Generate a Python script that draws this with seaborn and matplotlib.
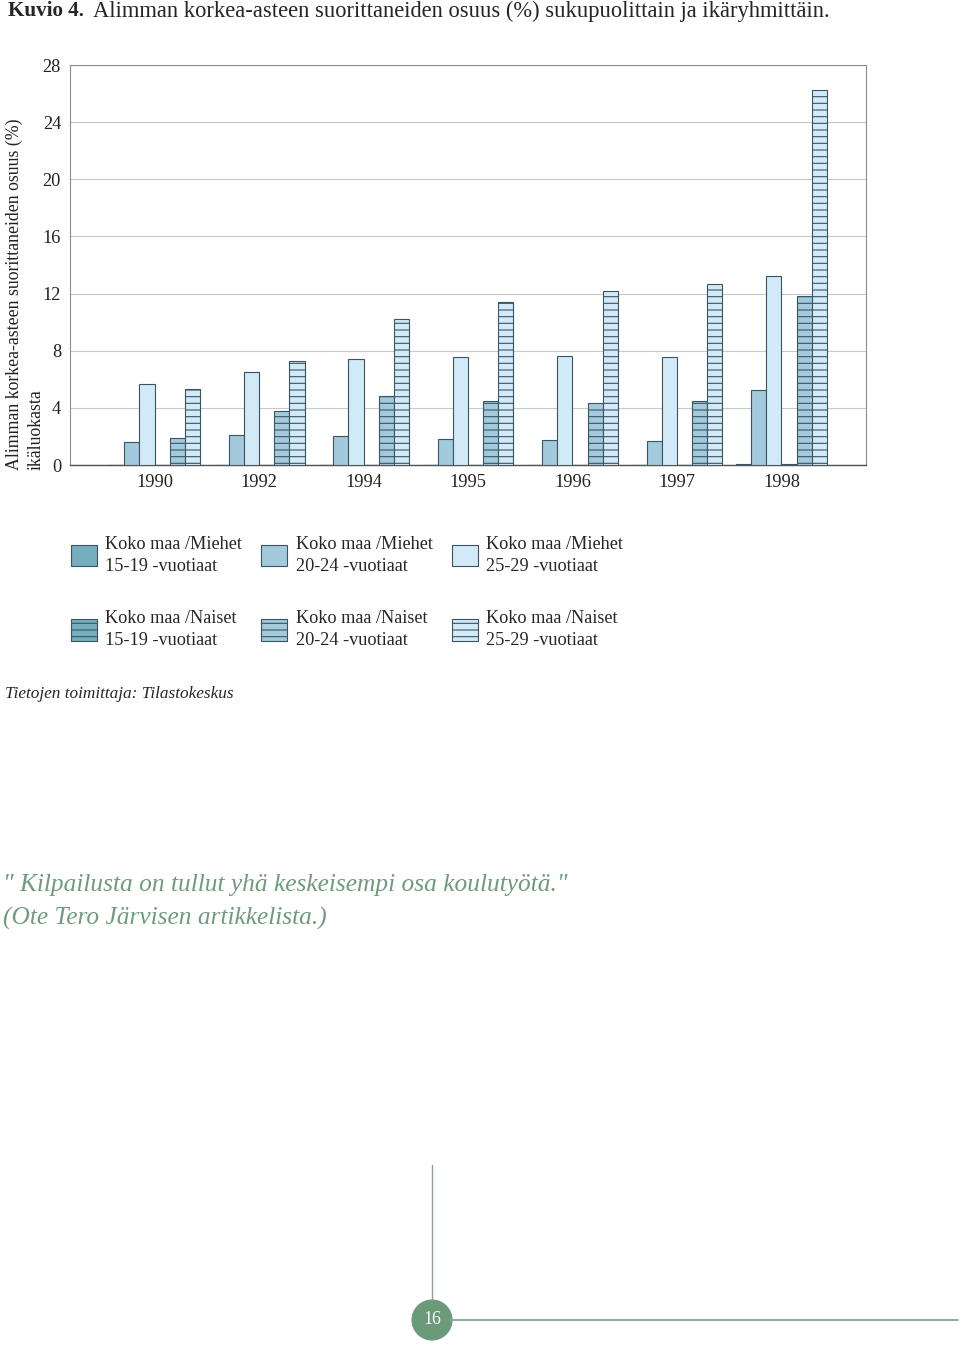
import pandas as pd
import matplotlib.pyplot as plt
import seaborn as sns
from matplotlib.patches import Patch, Ellipse
from matplotlib.lines import Line2D

# data
years = ['1990', '1992', '1994', '1995', '1996', '1997', '1998']
series = ['Miehet 15-19', 'Miehet 20-24', 'Miehet 25-29',
          'Naiset 15-19', 'Naiset 20-24', 'Naiset 25-29']
m15 = [0, 0, 0, 0, 0, 0, 0.05]
m20 = [1.6, 2.1, 2.05, 1.8, 1.75, 1.7, 5.25]
m25 = [5.7, 6.5, 7.4, 7.55, 7.6, 7.55, 13.2]
n15 = [0, 0, 0, 0, 0, 0, 0.05]
n20 = [1.9, 3.75, 4.8, 4.5, 4.35, 4.5, 11.85]
n25 = [5.3, 7.3, 10.25, 11.4, 12.2, 12.65, 26.25]
y_ticks = [0, 4, 8, 12, 16, 20, 24, 28]

legend_labels = ['Koko maa /Miehet\n15-19 -vuotiaat', 'Koko maa /Miehet\n20-24 -vuotiaat',
                 'Koko maa /Miehet\n25-29 -vuotiaat', 'Koko maa /Naiset\n15-19 -vuotiaat',
                 'Koko maa /Naiset\n20-24 -vuotiaat', 'Koko maa /Naiset\n25-29 -vuotiaat']

rows = []
for s, vals in zip(series, [m15, m20, m25, n15, n20, n25]):
    for y, v in zip(years, vals):
        rows.append({'year': y, 'series': s, 'value': v})
df = pd.DataFrame(rows)

sns.set_theme(style='white')
plt.rcParams['font.family'] = ['Liberation Serif', 'DejaVu Serif']
edge = '#3a5561'
plt.rcParams['hatch.color'] = edge
plt.rcParams['hatch.linewidth'] = 1.0

colors = ['#75aebd', '#a2c9dc', '#d2eaf8'] * 2

W, H = 960, 1346
fig = plt.figure(figsize=(W / 80, H / 80), dpi=80)
ax = fig.add_axes([70 / W, 1 - 465 / H, 796 / W, 400 / H])

sns.barplot(data=df, x='year', y='value', hue='series', hue_order=series,
            palette=colors, saturation=1, width=0.87, edgecolor=edge, linewidth=1,
            legend=False, ax=ax, zorder=3)

# Naiset bars get horizontal hatching
for i, cont in enumerate(ax.containers):
    if i >= 3:
        for bar in cont:
            bar.set_hatch('--')

ax.set_ylim(0, 28)
ax.set_xlim(-0.81, 6.81)
ax.set_yticks(y_ticks)
ax.yaxis.grid(True, color='#c8c8c8', linewidth=1)
ax.set_axisbelow(True)
ax.tick_params(axis='both', length=0, labelsize=16.5, pad=8, colors='#222222')
ax.set_xlabel('')
ax.set_ylabel('')
for side in ['left', 'top', 'right']:
    ax.spines[side].set_color('#8c8c8c')
    ax.spines[side].set_linewidth(1)
ax.spines['bottom'].set_color('#555555')
ax.spines['bottom'].set_linewidth(1.3)

# y axis title, two rotated lines both starting at the bottom
fig.text(14 / W, 1 - 470 / H, 'Alimman korkea-asteen suorittaneiden osuus (%)',
         rotation=90, ha='center', va='bottom', fontsize=16, color='#222222')
fig.text(36 / W, 1 - 470 / H, 'ikäluokasta',
         rotation=90, ha='center', va='bottom', fontsize=16, color='#222222')

# title
fig.text(8 / W, 1 - 11 / H, 'Kuvio 4.', fontsize=19, fontweight='bold', va='center')
fig.text(93 / W, 1 - 11 / H,
         'Alimman korkea-asteen suorittaneiden osuus (%) sukupuolittain ja ikäryhmittäin.',
         fontsize=20.3, va='center')

# legend (column-major order for ncol=3)
handles = [Patch(facecolor=colors[i], edgecolor=edge, hatch='--' if i >= 3 else None)
           for i in range(6)]
order = [0, 3, 1, 4, 2, 5]
leg = fig.legend([handles[i] for i in order], [legend_labels[i] for i in order],
                 ncol=3, loc='upper left', bbox_to_anchor=(71 / W, 1 - 536 / H),
                 frameon=False, fontsize=16.4, handlelength=1.43, handleheight=1.43,
                 handletextpad=0.45, labelspacing=1.97, columnspacing=1.05,
                 borderpad=0, borderaxespad=0)
for t in leg.get_texts():
    t.set_linespacing(1.35)

fig.text(5 / W, 1 - 694 / H, 'Tietojen toimittaja: Tilastokeskus',
         fontsize=15.5, style='italic', va='center')

quote_col = '#6e9a7e'
fig.text(3 / W, 1 - 885 / H, '" Kilpailusta on tullut yhä keskeisempi osa koulutyötä."',
         fontsize=22.8, style='italic', va='center', color=quote_col)
fig.text(3 / W, 1 - 918 / H, '(Ote Tero Järvisen artikkelista.)',
         fontsize=22.8, style='italic', va='center', color=quote_col)

# page number decoration
line_col = '#86a592'
fig.add_artist(Line2D([432 / W, 432 / W], [1 - 1165 / H, 1 - 1300 / H],
                      transform=fig.transFigure, color=line_col, linewidth=1.2))
fig.add_artist(Line2D([450 / W, 958 / W], [1 - 1320 / H, 1 - 1320 / H],
                      transform=fig.transFigure, color=line_col, linewidth=1.6))
fig.add_artist(Ellipse((432 / W, 1 - 1320 / H), 40 / W, 40 / H,
                       transform=fig.transFigure, color='#6b9a78'))
fig.text(432 / W, 1 - 1320 / H, '16', fontsize=16, color='white', ha='center', va='center')

fig.savefig('out.png', dpi=80)
